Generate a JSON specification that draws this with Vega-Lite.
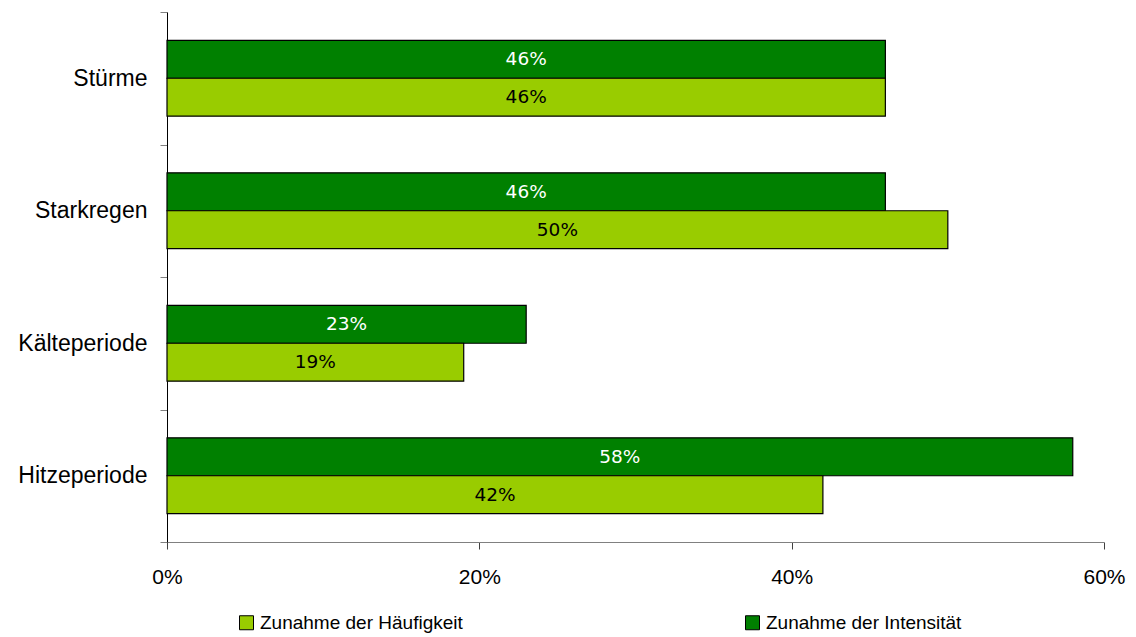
{
  "$schema": "https://vega.github.io/schema/vega-lite/v6.json",
  "autosize": "none",
  "width": 937,
  "height": 530,
  "padding": {"left": 167, "top": 12, "right": 32, "bottom": 95},
  "background": "white",
  "data": {
    "values": [
      {"kat": "Stürme", "serie": "Zunahme der Intensität", "wert": 0.46},
      {"kat": "Stürme", "serie": "Zunahme der Häufigkeit", "wert": 0.46},
      {"kat": "Starkregen", "serie": "Zunahme der Intensität", "wert": 0.46},
      {"kat": "Starkregen", "serie": "Zunahme der Häufigkeit", "wert": 0.50},
      {"kat": "Kälteperiode", "serie": "Zunahme der Intensität", "wert": 0.23},
      {"kat": "Kälteperiode", "serie": "Zunahme der Häufigkeit", "wert": 0.19},
      {"kat": "Hitzeperiode", "serie": "Zunahme der Intensität", "wert": 0.58},
      {"kat": "Hitzeperiode", "serie": "Zunahme der Häufigkeit", "wert": 0.42}
    ]
  },
  "encoding": {
    "y": {
      "field": "kat", "type": "nominal",
      "sort": ["Stürme", "Starkregen", "Kälteperiode", "Hitzeperiode"],
      "scale": {"paddingInner": 0, "paddingOuter": 0},
      "axis": {
        "title": null, "tickBand": "extent", "tickSize": 7, "tickColor": "#808080",
        "domainColor": "#000000", "labelFont": "Liberation Sans", "labelFontSize": 23,
        "labelColor": "#000000", "labelPadding": 13
      }
    },
    "yOffset": {
      "field": "serie", "type": "nominal",
      "sort": ["Zunahme der Intensität", "Zunahme der Häufigkeit"],
      "scale": {"paddingInner": 0, "paddingOuter": 0.745}
    }
  },
  "layer": [
    {
      "mark": {"type": "bar", "stroke": "#000000", "strokeWidth": 1.2},
      "encoding": {
        "x": {
          "field": "wert", "type": "quantitative",
          "scale": {"domain": [0, 0.6], "nice": false},
          "axis": {
            "title": null, "values": [0, 0.2, 0.4, 0.6], "format": ".0%", "grid": false,
            "tickSize": 7, "tickColor": "#404040", "domainColor": "#808080",
            "labelFont": "Liberation Sans", "labelFontSize": 21, "labelColor": "#000000",
            "labelPadding": 17, "labelFlush": false
          }
        },
        "color": {
          "field": "serie", "type": "nominal",
          "scale": {
            "domain": ["Zunahme der Häufigkeit", "Zunahme der Intensität"],
            "range": ["#99CC00", "#008000"]
          },
          "legend": {
            "title": null, "orient": "none", "legendX": 70, "legendY": 601,
            "direction": "horizontal", "columns": 2, "columnPadding": 280,
            "symbolType": "square", "symbolSize": 196, "symbolStrokeColor": "#000000",
            "symbolStrokeWidth": 1, "symbolOpacity": 1,
            "labelFont": "Liberation Sans", "labelFontSize": 19, "labelColor": "#000000",
            "labelOffset": 4, "labelLimit": 400
          }
        }
      }
    },
    {
      "transform": [{"calculate": "datum.wert / 2", "as": "mitte"}],
      "mark": {"type": "text", "font": "DejaVu Sans", "fontSize": 18.5, "align": "center", "baseline": "middle"},
      "encoding": {
        "x": {"field": "mitte", "type": "quantitative"},
        "text": {"field": "wert", "type": "quantitative", "format": ".0%"},
        "color": {
          "condition": {"test": "datum.serie === 'Zunahme der Intensität'", "value": "#FFFFFF"},
          "value": "#000000"
        }
      }
    }
  ],
  "config": {"view": {"stroke": null}}
}
